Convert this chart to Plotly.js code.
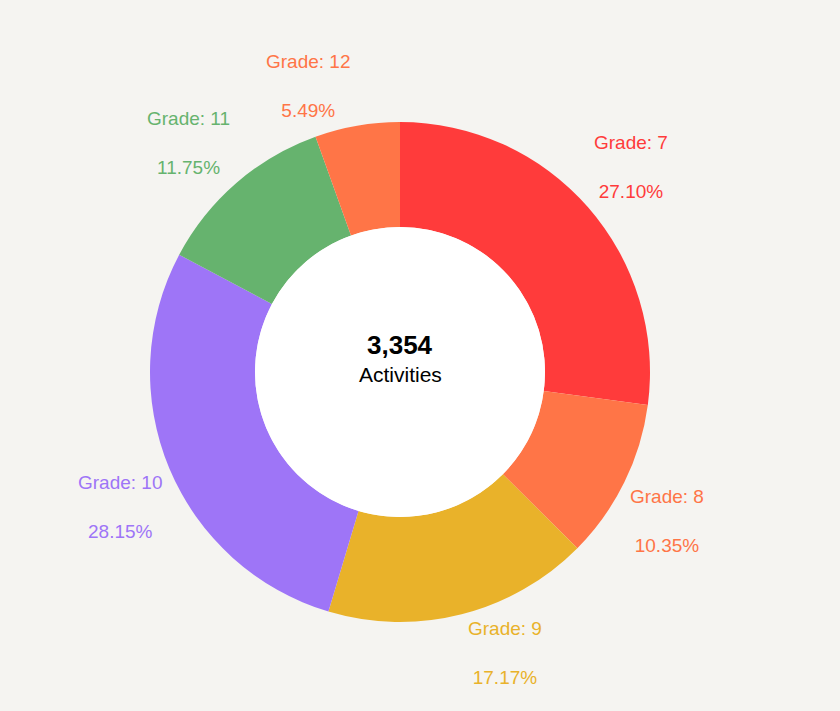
<!DOCTYPE html>
<html>
<head>
<meta charset="utf-8">
<script src="https://cdn.plot.ly/plotly-3.0.1.min.js"></script>
<style>html,body{margin:0;padding:0;background:#f5f4f1;}#chart{width:840px;height:711px;}</style>
</head>
<body>
<div id="chart"></div>
<script>
const grades = ["7", "8", "9", "10", "11", "12"];
const counts = [909, 347, 576, 944, 394, 184];
const colors = ["#ff3b3b", "#ff7547", "#e9b22a", "#9e75f7", "#66b36e", "#ff7547"];
const centerLabel = "Activities";

const W = 840, H = 711;
const CX = 400, CY = 372, R = 250;   // pie geometry (px)
const HOLE = 0.58;
const FONT = "Liberation Sans, Arial, Helvetica, sans-serif";

const total = counts.reduce((a, b) => a + b, 0);

const trace = {
  type: "pie",
  labels: grades,
  values: counts,
  sort: false,
  direction: "clockwise",
  rotation: 0,
  hole: HOLE,
  marker: { colors: colors, line: { width: 0 } },
  textinfo: "none",
  showlegend: false,
  domain: { x: [(CX - R) / W, (CX + R) / W], y: [1 - (CY + R) / H, 1 - (CY - R) / H] },
  hoverinfo: "label+value+percent"
};

// outside labels, placed from the data (mid-angle of each slice)
const annotations = [];
let cum = 0;
counts.forEach((v, i) => {
  const mid = (cum + v / 2) / total;
  cum += v;
  const th = mid * 2 * Math.PI;
  const ax = CX + R * Math.sin(th);
  const ay = CY - R * Math.cos(th);
  const right = Math.sin(th) >= 0;
  const up = Math.cos(th) >= 0;
  const pct = (v / total * 100).toFixed(2) + "%";
  annotations.push({
    text: "Grade: " + grades[i] + "<br><br>" + pct,
    x: (ax + (right ? 4 : -4)) / W,
    y: 1 - (ay + (up ? -3 : 2)) / H,
    xref: "paper", yref: "paper",
    xanchor: right ? "left" : "right",
    yanchor: up ? "bottom" : "top",
    showarrow: false,
    align: "center",
    font: { family: FONT, size: 19, color: colors[i] }
  });
});

annotations.push(
  { text: "<b>" + total.toLocaleString("en-US") + "</b>", x: CX / W, y: 1 - 345 / H, xref: "paper", yref: "paper",
    showarrow: false, font: { family: FONT, size: 26, color: "#000" } },
  { text: centerLabel, x: CX / W, y: 1 - 374 / H, xref: "paper", yref: "paper",
    showarrow: false, font: { family: FONT, size: 21, color: "#000" } }
);

const layout = {
  width: W,
  height: H,
  margin: { l: 0, r: 0, t: 0, b: 0 },
  paper_bgcolor: "#f5f4f1",
  plot_bgcolor: "#f5f4f1",
  showlegend: false,
  shapes: [{
    type: "circle", xref: "paper", yref: "paper", layer: "above",
    x0: (CX - R * HOLE) / W, x1: (CX + R * HOLE) / W,
    y0: 1 - (CY + R * HOLE) / H, y1: 1 - (CY - R * HOLE) / H,
    fillcolor: "#ffffff", line: { width: 0 }
  }],
  annotations: annotations
};

Plotly.newPlot("chart", [trace], layout, { displayModeBar: false, staticPlot: true });
</script>
</body>
</html>
